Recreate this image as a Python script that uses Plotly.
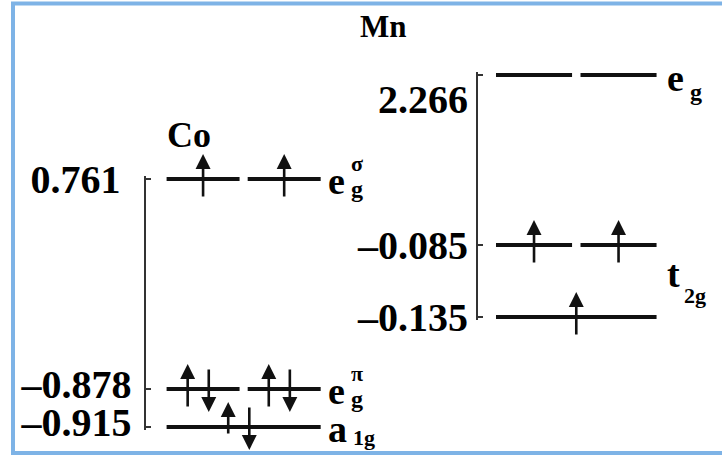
import plotly.graph_objects as go

W, H = 722, 460

# ---- level data (energies in eV) ----
co_energy = [0.761, -0.878, -0.915]
co_main = ["e", "e", "a"]
co_sup = ["σ", "π", ""]
co_sub = ["g", "g", "1g"]
co_orbitals = [2, 2, 1]
co_spins = [["u", "u"], ["ud", "ud"], ["ud"]]

mn_energy = [2.266, -0.085, -0.135]
mn_orbitals = [2, 2, 1]
mn_spins = [["", ""], ["u", "u"], ["u"]]
mn_eg_label = ("e", "g")
mn_t2g_label = ("t", "2g")
mn_t2g_levels = [1, 2]

panel_titles = ["Co", "Mn"]

FONT = "Liberation Serif"
INK = "#111111"
HALF = 0.45          # half-length of one orbital bar (slot units)


def paper_y(p):
    return 1 - p / H


def paper_x(p):
    return p / W


def segment(top_px, bot_px, anchor_val, anchor_px, px_per_unit):
    """Domain + range for one piece of a broken energy axis."""
    lo = anchor_val - (bot_px - anchor_px) / px_per_unit
    hi = anchor_val + (anchor_px - top_px) / px_per_unit
    return dict(domain=[paper_y(bot_px), paper_y(top_px)], range=[lo, hi])


fig = go.Figure()

# x axes: one per panel, orbital slots at x = 0 and x = 1
x_axes = {
    "xaxis": dict(domain=[paper_x(145.5), paper_x(345)], range=[-0.71, 1.75]),
    "xaxis2": dict(domain=[paper_x(478), paper_x(700)], range=[-0.663, 1.964]),
}

# broken y axes: upper / lower piece per panel
y_axes = {
    "yaxis": dict(segment(176, 300, co_energy[0], 179, 100), anchor="x"),
    "yaxis2": dict(segment(300, 430, co_energy[2], 427, 38 / 0.037), anchor="x"),
    "yaxis3": dict(segment(72, 180, mn_energy[0], 75, 100), anchor="x2"),
    "yaxis4": dict(segment(180, 320, mn_energy[2], 317, 72 / 0.05), anchor="x2"),
}

co_axis_of_level = ["y", "y2", "y2"]
mn_axis_of_level = ["y3", "y4", "y4"]

tick_font = dict(family=FONT, size=40, color="black", weight="bold")


def fmt(v):
    return f"{v:.3f}".replace("-", "–")


annotations = []


def draw_panel(energy, orbitals, spins, xref, yrefs):
    for E, n, sp, yref in zip(energy, orbitals, spins, yrefs):
        xs, ys = [], []
        if n == 2:
            for k in range(2):
                xs += [k - HALF, k + HALF, None]
                ys += [E, E, None]
            centers = [0, 1]
        else:
            xs += [-HALF, 1 + HALF]
            ys += [E, E]
            centers = [0.5]
        fig.add_trace(go.Scatter(
            x=xs, y=ys, mode="lines", xaxis=xref, yaxis=yref,
            line=dict(color=INK, width=3.8), hoverinfo="skip",
            showlegend=False))
        # electrons
        for c, occ in zip(centers, sp):
            if occ == "u":
                arrows = [(c, "up")]
            elif occ == "ud":
                arrows = [(c - 0.19, "up"), (c + 0.07, "down")]
            else:
                arrows = []
            for ax_x, d in arrows:
                annotations.append(dict(
                    x=ax_x, y=E, xref=xref, yref=yref, text="",
                    showarrow=True, arrowhead=2, arrowsize=1.15,
                    arrowwidth=2.6, arrowcolor=INK,
                    ax=0, ay=44 if d == "up" else -44,
                    yshift=25 if d == "up" else -23))


draw_panel(co_energy, co_orbitals, co_spins, "x", co_axis_of_level)
draw_panel(mn_energy, mn_orbitals, mn_spins, "x2", mn_axis_of_level)


def text(x, y, xref, yref, s, size, xshift=0, yshift=0, xanchor="left"):
    annotations.append(dict(
        x=x, y=y, xref=xref, yref=yref, text=s, showarrow=False,
        xanchor=xanchor, yanchor="middle", xshift=xshift, yshift=yshift,
        font=dict(family=FONT, size=size, color="black", weight="bold")))


# Co symmetry labels
for E, m, sup, sub, yref in zip(co_energy, co_main, co_sup, co_sub,
                                co_axis_of_level):
    text(1 + HALF, E, "x", yref, m, 38, xshift=5, yshift=-2)
    if sup:
        text(1 + HALF, E, "x", yref, sup, 22, xshift=36, yshift=16,
             xanchor="center")
        text(1 + HALF, E, "x", yref, sub, 24, xshift=36, yshift=-10,
             xanchor="center")
    else:
        text(1 + HALF, E, "x", yref, sub, 22, xshift=30, yshift=-10)

# Mn symmetry labels
text(1 + HALF, mn_energy[0], "x2", "y3", mn_eg_label[0], 38,
     xshift=8, yshift=-3)
text(1 + HALF, mn_energy[0], "x2", "y3", mn_eg_label[1], 24,
     xshift=39, yshift=-17, xanchor="center")
t2g_mid = sum(mn_energy[i] for i in mn_t2g_levels) / len(mn_t2g_levels)
text(1 + HALF, t2g_mid, "x2", "y4", mn_t2g_label[0], 38, xshift=8, yshift=7)
text(1 + HALF, t2g_mid, "x2", "y4", mn_t2g_label[1], 22, xshift=25,
     yshift=-14)

# panel titles
for t, (cx, cy), fs in zip(panel_titles, [(189, 135), (383, 27)], [36, 31]):
    annotations.append(dict(
        x=paper_x(cx), y=paper_y(cy), xref="paper", yref="paper", text=t,
        showarrow=False, xanchor="center", yanchor="middle",
        font=dict(family=FONT, size=fs, color="black", weight="bold")))

axis_common = dict(showgrid=False, zeroline=False, automargin=False)
for name, spec in x_axes.items():
    fig.layout[name] = dict(spec, visible=False, **axis_common)

y_ticks = {
    "yaxis": [co_energy[0]],
    "yaxis2": co_energy[1:],
    "yaxis3": [mn_energy[0]],
    "yaxis4": mn_energy[1:],
}
label_standoff = {"yaxis": 15, "yaxis2": 4, "yaxis3": 0, "yaxis4": 0}
label_shift = {"yaxis": 0, "yaxis2": -5, "yaxis3": 24, "yaxis4": 0}
for name, spec in y_axes.items():
    vals = y_ticks[name]
    fig.layout[name] = dict(
        spec, **axis_common, showline=True, linecolor="#333333", linewidth=2,
        ticks="inside", ticklen=5, tickwidth=1.5, tickcolor="#333333",
        tickvals=vals, ticktext=[fmt(v) for v in vals], tickfont=tick_font,
        ticklabelstandoff=label_standoff[name],
        ticklabelshift=label_shift[name])

# blue frame
fig.add_shape(type="rect", xref="paper", yref="paper",
              x0=paper_x(13), x1=1.02, y0=paper_y(453), y1=paper_y(3.5),
              line=dict(color="#7eb3e6", width=4), layer="above")

fig.update_layout(
    width=W, height=H, margin=dict(l=0, r=0, t=0, b=0, pad=0),
    paper_bgcolor="white", plot_bgcolor="rgba(0,0,0,0)",
    annotations=annotations, showlegend=False)

fig.write_html("out.html")
